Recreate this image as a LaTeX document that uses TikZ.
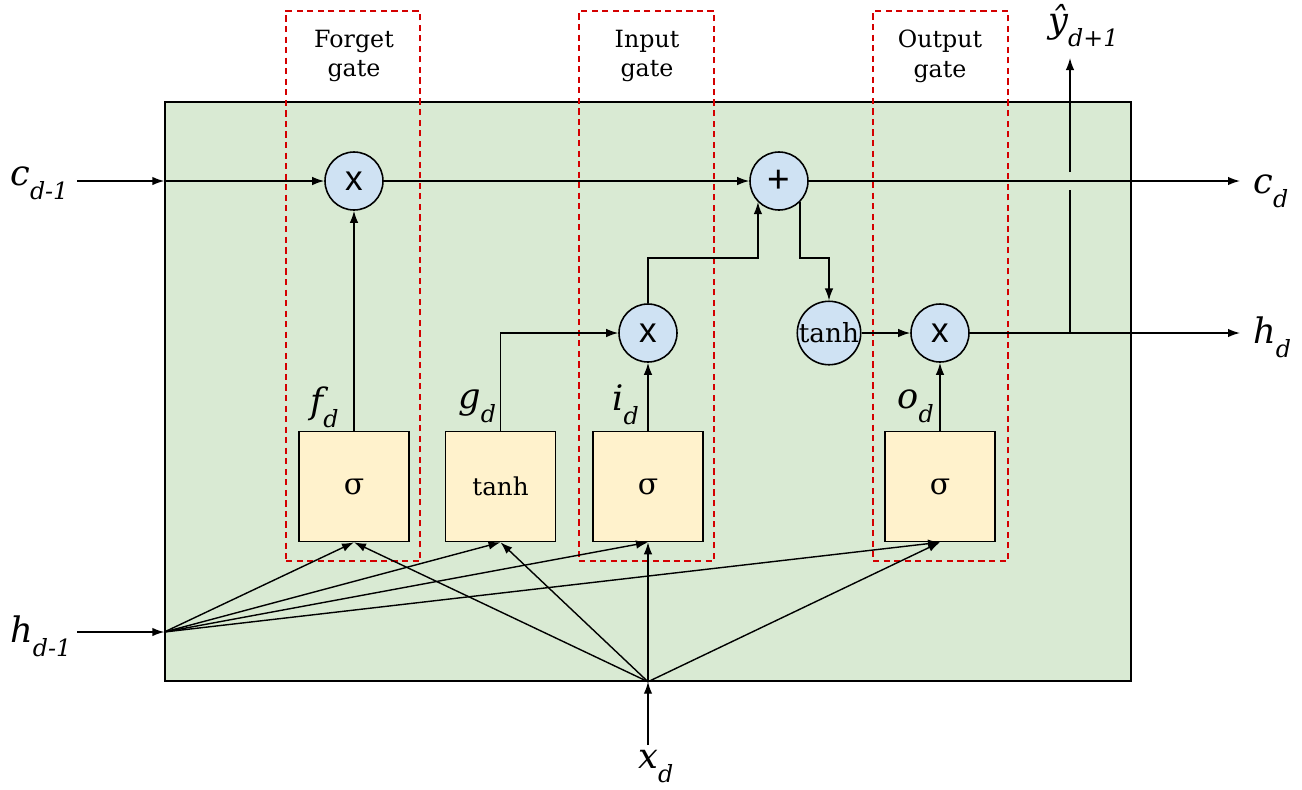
\documentclass[tikz,border=0pt]{standalone}
\usepackage{fontspec}
\setmainfont{DejaVu Serif}
\newfontfamily\opfont{Liberation Sans}
\usepackage{tikz}
\usetikzlibrary{shapes, arrows.meta, calc}
\definecolor{cellgreen}{HTML}{D9EAD3}
\definecolor{opblue}{HTML}{CFE2F3}
\definecolor{actyellow}{HTML}{FFF2CC}
\definecolor{gatered}{HTML}{D40000}
\tikzstyle{cell} = [rectangle, draw, fill=cellgreen, line width=0.9pt]
\tikzstyle{gate} = [rectangle, draw=gatered, line width=0.9pt,
    dash pattern=on 3.5pt off 2.5pt]
\tikzstyle{gatelabel} = [align=center, font=\fontsize{13.5}{17}\selectfont]
\tikzstyle{pointwise} = [circle, draw, fill=opblue, minimum size=1.16cm,
    inner sep=0pt, line width=0.9pt]
\tikzstyle{layer} = [rectangle, draw, fill=actyellow, minimum size=2.2cm,
    inner sep=0pt, line width=0.9pt, font=\fontsize{17}{17}\selectfont]
\tikzstyle{var} = [inner sep=0pt, anchor=base west,
    font=\fontsize{20}{20}\selectfont\itshape]
\tikzstyle{line} = [draw, line width=0.8pt, -{Latex[length=2.4mm, width=1.7mm]}]
\tikzstyle{wire} = [draw, line width=0.8pt]
\newcommand{\varsub}[2]{#1\raisebox{-0.4em}{\fontsize{13.5}{13.5}\selectfont #2}}
\newcommand{\opx}{{\opfont\fontsize{20}{20}\selectfont x}}

\begin{document}
\begin{tikzpicture}[x=0.02cm, y=-0.02cm]
    \useasboundingbox (0,0) rectangle (1302,789);
    % Cell and gates
    \node[cell, minimum width=19.32cm, minimum height=11.58cm] (cell) at (648,391.5) {};
    \node[gate, minimum width=2.68cm, minimum height=11cm] (forget) at (353,286) {};
    \node[gate, minimum width=2.7cm, minimum height=11cm] (input) at (646.5,286) {};
    \node[gate, minimum width=2.7cm, minimum height=11cm] (output) at (940.5,286) {};
    \node[gatelabel] (forgetlbl) at (354,56) {Forget\\gate};
    \node[gatelabel] (inputlbl) at (647,56) {Input\\gate};
    \node[gatelabel] (outputlbl) at (940,56) {Output\\gate};

    % Nodes
    \node[pointwise] (fmul) at (354,181) {\opx};
    \node[pointwise] (plus) at (779,181) {\opfont\fontsize{22}{22}\selectfont +};
    \node[pointwise] (imul) at (648,333) {\opx};
    \node[pointwise, font=\fontsize{15}{15}\selectfont] (tanhc) at (829,333) {tanh};
    \node[pointwise] (omul) at (940,333) {\opx};
    \node[layer] (fbox) at (354,486.5) {σ};
    \node[layer, font=\fontsize{14}{14}\selectfont] (gbox) at (500.5,486.5) {tanh};
    \node[layer] (ibox) at (648,486.5) {σ};
    \node[layer] (obox) at (940,486.5) {σ};

    % Labels
    \node[var] (cprev) at (10,185) {\varsub{c}{d-1}};
    \node[var] (hprev) at (10,642) {\varsub{h}{d-1}};
    \node[var] (cnext) at (1253,193) {\varsub{c}{d}};
    \node[var] (hnext) at (1253,343) {\varsub{h}{d}};
    \node[var] (xin) at (638,768) {\varsub{x}{d}};
    \node[var] (yhat) at (1048,32) {\varsub{ŷ}{d+1}};
    \node[var] (flbl) at (310,413) {\varsub{f}{d}};
    \node[var] (glbl) at (458,408) {\varsub{g}{d}};
    \node[var] (ilbl) at (612,410) {\varsub{i}{d}};
    \node[var] (olbl) at (897,408) {\varsub{o}{d}};

    % Ends
    \coordinate (cstart) at (77,181);
    \coordinate (cend) at (1240,181);
    \coordinate (hstart) at (77,632);
    \coordinate (hend) at (1240,333);
    \coordinate (xstart) at (648,745);
    \coordinate (merge) at (700,258);
    \coordinate (hsplit) at (1070,333);
    \coordinate (yout) at (1070,58);

    % Edges
    \path[line] (cstart) -- (cell.west |- cstart);
    \path[line] (cell.west |- cstart) -- (fmul);
    \path[line] (fmul) -- (plus);
    \path[line] (plus) -- (cend);
    \path[line] (hstart) -- (cell.west |- hstart);
    \path[line] (xstart) -- (cell.south);
    \foreach \b in {fbox, gbox, ibox, obox} {
        \path[line] (cell.west |- hstart) -- (\b.south);
        \path[line] (cell.south) -- (\b.south);
    }
    \path[line] (fbox.north) -- (fmul.south);
    \path[line] (gbox.north) |- (imul.west);
    \path[line] (ibox.north) -- (imul.south);
    \path[line] (obox.north) -- (omul.south);
    \path[line] (imul.north) |- (plus.-135 |- merge) -- (plus.-135);
    \path[line] (plus.-45) |- (tanhc.north |- merge) -- (tanhc.north);
    \path[line] (tanhc) -- (omul);
    \path[line] (omul) -- (hend);
    \path[wire] (hsplit) -- ($(hsplit |- plus)+(0,9)$);
    \path[line] ($(hsplit |- plus)+(0,-9)$) -- (yout);
\end{tikzpicture}
\end{document}
